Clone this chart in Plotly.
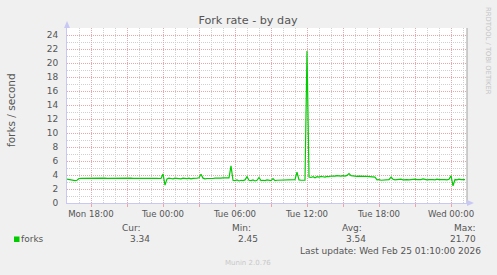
import pandas as pd
import plotly.graph_objects as go

# ---------------- data ----------------
START = "2026-02-23 16:00"
STEP = "10min"
forks = [
    3.40, 3.35, 3.22, 3.20, 3.20, 3.25, 3.50, 3.52, 3.53, 3.52,
    3.53, 3.53, 3.52, 3.53, 3.54, 3.53, 3.52, 3.53, 3.53, 3.54,
    3.52, 3.53, 3.50, 3.53, 3.53, 3.55, 3.53, 3.52, 3.53, 3.53,
    3.52, 3.53, 3.54, 3.53, 3.52, 3.53, 3.53, 3.52, 3.53, 3.53,
    3.52, 3.53, 3.54, 3.53, 3.52, 3.53, 3.52, 3.50, 4.15, 2.55,
    3.45, 3.55, 3.50, 3.45, 3.55, 3.48, 3.52, 3.45, 3.55, 3.50,
    3.48, 3.55, 3.45, 3.52, 3.50, 3.55, 3.60, 4.10, 3.55, 3.45,
    3.50, 3.48, 3.52, 3.50, 3.55, 3.52, 3.58, 3.55, 3.60, 3.58,
    3.55, 3.60, 5.30, 3.25, 3.20, 3.30, 3.15, 3.25, 3.20, 3.30,
    3.75, 3.25, 3.20, 3.30, 3.15, 3.25, 3.65, 3.20, 3.25, 3.20,
    3.30, 3.25, 3.20, 3.50, 3.20, 3.25, 3.25, 3.30, 3.30, 3.30,
    3.30, 3.35, 3.30, 3.30, 3.35, 4.40, 3.30, 3.25, 3.20, 3.25,
    21.70, 3.70, 3.65, 3.75, 3.60, 3.75, 3.70, 3.80, 3.75, 3.70,
    3.80, 3.75, 3.85, 3.80, 3.85, 3.90, 3.85, 3.85, 3.90, 3.85,
    3.95, 4.20, 3.90, 3.85, 3.85, 3.80, 3.85, 3.80, 3.85, 3.80,
    3.80, 3.75, 3.80, 3.75, 3.70, 3.30, 3.35, 3.25, 3.30, 3.35,
    3.30, 3.35, 3.70, 3.40, 3.30, 3.35, 3.30, 3.40, 3.30, 3.35,
    3.35, 3.30, 3.35, 3.30, 3.40, 3.35, 3.30, 3.35, 3.45, 3.35,
    3.30, 3.35, 3.40, 3.35, 3.30, 3.40, 3.35, 3.30, 3.35, 3.35,
    3.30, 3.40, 3.90, 2.45, 3.35, 3.30, 3.40, 3.35, 3.30, 3.34,
]
times = pd.date_range(START, periods=len(forks), freq=STEP)

x_range = ["2026-02-23 16:00", "2026-02-25 01:20"]
x_tickvals = pd.date_range("2026-02-23 18:00", "2026-02-25 00:00", freq="3h")
x_ticktext = ["Mon 18:00", "", "Tue 00:00", "", "Tue 06:00", "", "Tue 12:00",
              "", "Tue 18:00", "", "Wed 00:00"]
y_tickvals = list(range(0, 25, 2))

legend_name = "forks"
stat_labels = ["Cur:", "Min:", "Avg:", "Max:"]
stat_values = ["3.34", "2.45", "3.54", "21.70"]
title_text = "Fork rate - by day"
y_title = "forks / second"
last_update = "Last update: Wed Feb 25 01:10:00 2026"
munin_version = "Munin 2.0.76"
side_text = "RRDTOOL / TOBI OETIKER"

# ---------------- layout helpers ----------------
W, H = 497, 275
L, R, T, B = 67, 467, 28, 203
FONT = "DejaVu Sans"
TXT = "#555555"
MAJ = "#e6a8a8"
MIN = "#d0d0d0"
AX = "#c8c8f4"


def px(x):
    return (x - L) / (R - L)


def py(y):
    return (B - y) / (B - T)


fig = go.Figure()
fig.add_trace(go.Scatter(x=times, y=forks, mode="lines",
                         line=dict(color="#00cc00", width=1.2),
                         name=legend_name, hoverinfo="skip"))

fig.update_layout(
    width=W, height=H,
    margin=dict(l=L, r=W - R, t=T, b=H - B, pad=0),
    paper_bgcolor="#f0f0f0", plot_bgcolor="#ffffff",
    showlegend=False,
    font=dict(family=FONT, size=9, color=TXT),
    title=dict(text=title_text, x=248 / W, xanchor="center",
               y=1 - 20.5 / H, yanchor="middle",
               font=dict(family=FONT, size=11.2, color=TXT)),
)

fig.update_xaxes(
    type="date", range=x_range,
    tickvals=x_tickvals, ticktext=x_ticktext,
    tickfont=dict(size=8.6, color=TXT),
    ticks="outside", ticklen=3, tickcolor=MAJ, tickwidth=1,
    showgrid=True, gridcolor=MAJ, griddash="1px,1px", gridwidth=1,
    minor=dict(dtick=3600000, tick0="2026-02-23 16:00", showgrid=True,
               gridcolor=MIN, griddash="1px,1px", gridwidth=1, ticks=""),
    showline=True, linecolor=AX, linewidth=1,
    zeroline=False, fixedrange=True,
)
fig.update_yaxes(
    range=[0, 25], tickvals=y_tickvals,
    tickfont=dict(size=9, color=TXT),
    ticks="outside", ticklen=4, tickcolor="rgba(0,0,0,0)",
    ticklabelstandoff=2,
    showgrid=True, gridcolor=MAJ, griddash="1px,1px", gridwidth=1,
    minor=dict(dtick=1, showgrid=True, gridcolor=MIN,
               griddash="1px,1px", gridwidth=1, ticks=""),
    showline=True, linecolor=AX, linewidth=1,
    zeroline=False, fixedrange=True,
)

# right frame line and axis arrows
fig.add_shape(type="line", xref="paper", yref="paper", x0=1, x1=1, y0=0, y1=1,
              line=dict(color="#a0a0a0", width=1))
fig.add_shape(type="path", xref="paper", yref="paper",
              xsizemode="pixel", ysizemode="pixel", xanchor=0, yanchor=1,
              path="M -3 0 L 3 0 L 0 7 Z", fillcolor=AX, line=dict(width=0))
fig.add_shape(type="path", xref="paper", yref="paper",
              xsizemode="pixel", ysizemode="pixel", xanchor=1, yanchor=0,
              path="M 0 -3 L 0 3 L 7 0 Z", fillcolor=AX, line=dict(width=0))
# legend swatch
fig.add_shape(type="rect", xref="paper", yref="paper",
              x0=px(14), x1=px(19.5), y0=py(242), y1=py(236.5),
              fillcolor="#00cc00", line=dict(width=0))


def note(text, x, y, xanchor="right", size=9, color=TXT, angle=0):
    fig.add_annotation(text=text, xref="paper", yref="paper", x=px(x), y=py(y),
                       xanchor=xanchor, yanchor="middle", showarrow=False,
                       textangle=angle, borderpad=0,
                       font=dict(family=FONT, size=size, color=color))


note(y_title, 11, 110, xanchor="center", size=10.5, angle=-90)
note(side_text, 488, 51, xanchor="center", size=6.8, color="#c4c4c4", angle=90)
note(legend_name, 20, 239, xanchor="left")
label_right = [142, 252, 363, 477]
value_right = [151, 259, 367, 477]
for lab, val, xl, xv in zip(stat_labels, stat_values, label_right, value_right):
    note(lab, xl, 228)
    note(val, xv, 239)
note(last_update, 482, 251)
note(munin_version, 248, 263, xanchor="center", size=7, color="#c8c8c8")

fig.write_html("out.html")
